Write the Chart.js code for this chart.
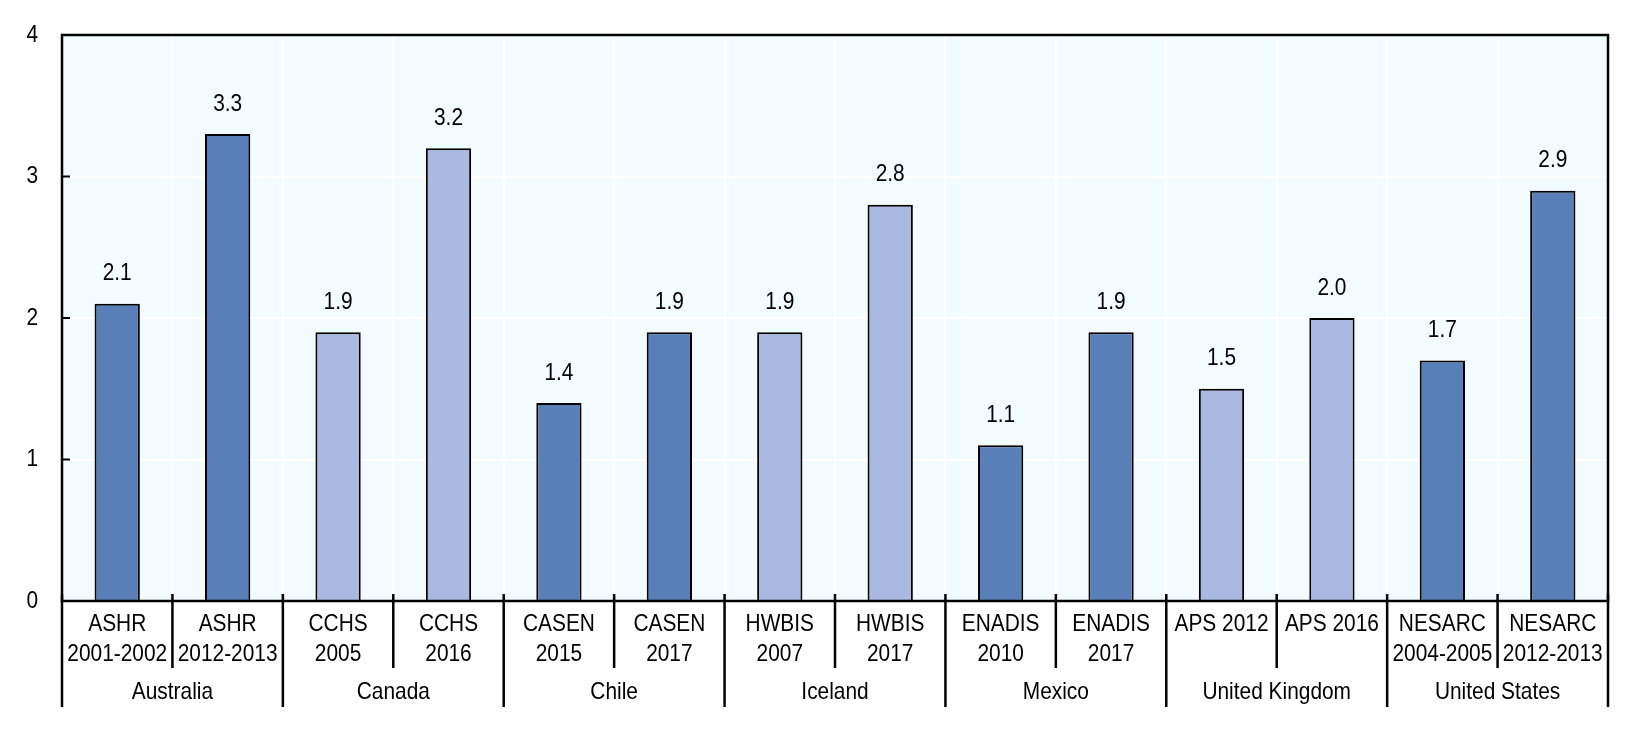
<!DOCTYPE html>
<html>
<head>
<meta charset="utf-8">
<script src="https://cdn.jsdelivr.net/npm/chart.js@4"></script>
<style>
	html, body { margin: 0; padding: 0; background: #fff; }
	#wrap { width: 1642px; height: 732px; }
</style>
</head>
<body>
<div id="wrap"><canvas id="chart" width="1642" height="732"></canvas></div>
<script>
const surveys = [
	['ASHR', '2001-2002'], ['ASHR', '2012-2013'],
	['CCHS', '2005'], ['CCHS', '2016'],
	['CASEN', '2015'], ['CASEN', '2017'],
	['HWBIS', '2007'], ['HWBIS', '2017'],
	['ENADIS', '2010'], ['ENADIS', '2017'],
	['APS 2012'], ['APS 2016'],
	['NESARC', '2004-2005'], ['NESARC', '2012-2013']
];
const values = [2.1, 3.3, 1.9, 3.2, 1.4, 1.9, 1.9, 2.8, 1.1, 1.9, 1.5, 2.0, 1.7, 2.9];
const countries = ['Australia', 'Canada', 'Chile', 'Iceland', 'Mexico', 'United Kingdom', 'United States'];
const countryShade = ['dark', 'light', 'dark', 'light', 'dark', 'light', 'dark'];
const yTicks = [0, 1, 2, 3, 4];

const DARK = '#587fb7';
const LIGHT = '#a9b9e1';
const FONT = "'Liberation Sans', Arial, sans-serif";
const SQUEEZE = 0.87; // the original uses a condensed face

const barColors = values.map((v, i) => countryShade[Math.floor(i / 2)] === 'dark' ? DARK : LIGHT);

// boundary between category i-1 and i, in pixels
function boundary(x, i) {
	if (i <= 0) return x.left;
	if (i >= values.length) return x.right;
	return (x.getPixelForValue(i - 1) + x.getPixelForValue(i)) / 2;
}

function narrowText(ctx, text, x, y) {
	ctx.save();
	ctx.translate(x, y);
	ctx.scale(SQUEEZE, 1);
	ctx.fillText(text, 0, 0);
	ctx.restore();
}

const frame = {
	id: 'frame',
	beforeDraw(chart) {
		const { ctx, chartArea: a } = chart;
		ctx.save();
		ctx.fillStyle = '#f2fbfd';
		ctx.fillRect(a.left, a.top, a.right - a.left, a.bottom - a.top);
		ctx.restore();
	},
	afterDatasetsDraw(chart) {
		const { ctx, chartArea: a } = chart;
		const x = chart.scales.x, y = chart.scales.y;
		ctx.save();
		ctx.strokeStyle = '#000';
		ctx.lineWidth = 2.5;
		ctx.strokeRect(a.left, a.top, a.right - a.left, a.bottom - a.top);

		ctx.fillStyle = '#000';
		ctx.font = '24px ' + FONT;
		ctx.textBaseline = 'middle';

		// y ticks: inward marks and labels
		ctx.lineWidth = 2;
		ctx.textAlign = 'right';
		for (const t of yTicks) {
			const py = y.getPixelForValue(t);
			ctx.beginPath(); ctx.moveTo(a.left, py); ctx.lineTo(a.left + 8, py); ctx.stroke();
			narrowText(ctx, String(t), a.left - 24, py);
		}

		// category separators below the axis
		ctx.lineWidth = 2.5;
		for (let i = 0; i <= values.length; i++) {
			const px = boundary(x, i);
			const end = (i % 2 === 0) ? a.bottom + 106 : a.bottom + 67;
			ctx.beginPath(); ctx.moveTo(px, a.bottom - 7); ctx.lineTo(px, end); ctx.stroke();
		}

		ctx.textAlign = 'center';
		// survey labels
		surveys.forEach((lines, i) => {
			const cx = x.getPixelForValue(i);
			lines.forEach((ln, k) => narrowText(ctx, ln, cx, a.bottom + 23 + k * 30));
		});

		// country labels
		countries.forEach((c, g) => {
			const cx = (boundary(x, g * 2) + boundary(x, g * 2 + 2)) / 2;
			narrowText(ctx, c, cx, a.bottom + 91);
		});

		// value labels
		const meta = chart.getDatasetMeta(0);
		meta.data.forEach((bar, i) => {
			narrowText(ctx, values[i].toFixed(1), bar.x, bar.y - 30);
		});
		ctx.restore();
	}
};

new Chart(document.getElementById('chart'), {
	type: 'bar',
	data: {
		labels: surveys,
		datasets: [{
			data: values,
			backgroundColor: barColors,
			borderColor: '#000',
			borderWidth: 2,
			borderSkipped: 'bottom',
			barPercentage: 0.41,
			categoryPercentage: 1
		}]
	},
	options: {
		responsive: false,
		animation: false,
		layout: { padding: { top: 35, right: 34, left: 0, bottom: 0 } },
		plugins: { legend: { display: false }, tooltip: { enabled: false } },
		scales: {
			x: {
				offset: true,
				grid: { offset: true, color: '#ffffff', lineWidth: 2, drawTicks: false },
				border: { display: false },
				ticks: { display: false },
				afterFit(s) { s.height = 131; }
			},
			y: {
				min: 0, max: 4,
				grid: { color: '#ffffff', lineWidth: 2, drawTicks: false },
				border: { display: false },
				ticks: { display: false, stepSize: 1 },
				afterFit(s) { s.width = 62; }
			}
		}
	},
	plugins: [frame]
});
</script>
</body>
</html>
